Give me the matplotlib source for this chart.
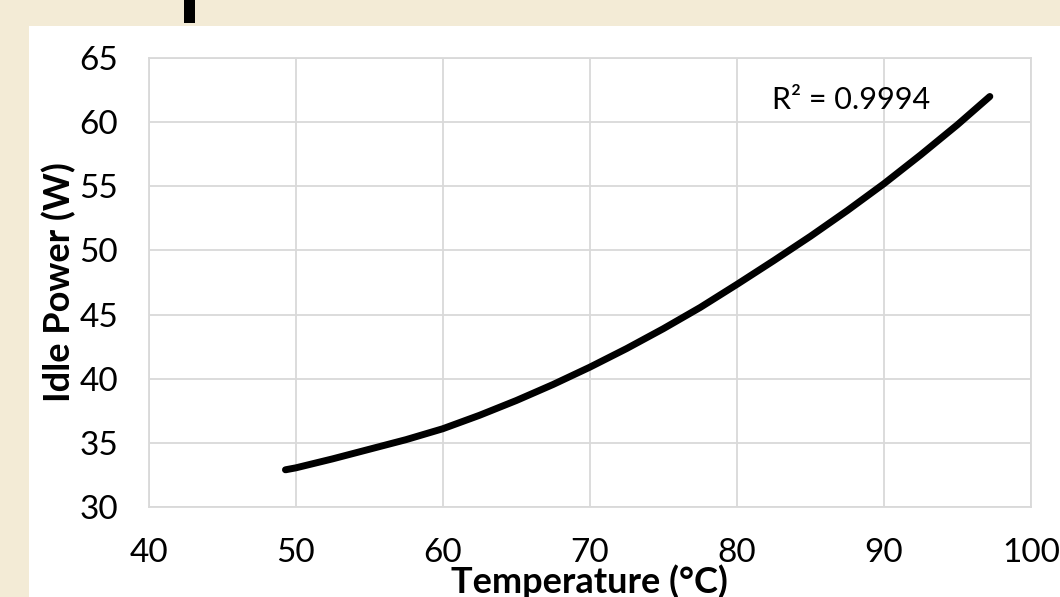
import numpy as np
import matplotlib
matplotlib.use('Agg')
import matplotlib.pyplot as plt
from matplotlib.patches import Rectangle

# values
temperature = [49.3, 50, 52.5, 55, 57.5, 60, 62.5, 65, 67.5, 70, 72.5, 75,
               77.5, 80, 82.5, 85, 87.5, 90, 92.5, 95, 97.2]
idle_power = [32.9, 33.05, 33.75, 34.5, 35.25, 36.1, 37.15, 38.3, 39.55, 40.9, 42.35, 43.9,
              45.55, 47.35, 49.2, 51.1, 53.1, 55.2, 57.45, 59.8, 62.0]
x_ticks = [40, 50, 60, 70, 80, 90, 100]
y_ticks = [30, 35, 40, 45, 50, 55, 60, 65]
r2_text = 'R² = 0.9994'

plt.rcParams['font.family'] = ['Lato', 'DejaVu Sans']

fig = plt.figure(figsize=(10.6, 5.97), dpi=100)
fig.patch.set_facecolor('#f3ebd6')

# white panel and the black bar at the top
fig.patches.append(Rectangle((29 / 1060, 0), 1, 1 - 26 / 597, transform=fig.transFigure,
                             facecolor='white', edgecolor='none', zorder=-5))
fig.patches.append(Rectangle((184 / 1060, 1 - 23 / 597), 11 / 1060, 23 / 597, transform=fig.transFigure,
                             facecolor='black', edgecolor='none', zorder=-5))

ax = fig.add_axes([148.7 / 1060, 90 / 597, 882.3 / 1060, 449 / 597])
ax.set_facecolor('white')

ax.plot(temperature, idle_power, color='black', linewidth=5,
        solid_capstyle='round', solid_joinstyle='round', zorder=3)

ax.set_xlim(40, 100)
ax.set_ylim(30, 65)
ax.set_xticks(x_ticks)
ax.set_yticks(y_ticks)
ax.tick_params(length=0, labelsize=24, pad=22)
ax.tick_params(axis='x', pad=22)
ax.grid(True, color='#d9d9d9', linewidth=1.3)
for s in ax.spines.values():
    s.set_color('#d9d9d9')
    s.set_linewidth(1.3)

ax.set_xlabel('Temperature (°C)', fontsize=26, fontweight='bold', labelpad=-2)
ax.set_ylabel('Idle Power (W)', fontsize=26, fontweight='bold', labelpad=2)

ax.text(82.4, 61.7, r2_text, fontsize=22, va='center', ha='left')

fig.savefig('out.png', dpi=100, facecolor=fig.get_facecolor())
